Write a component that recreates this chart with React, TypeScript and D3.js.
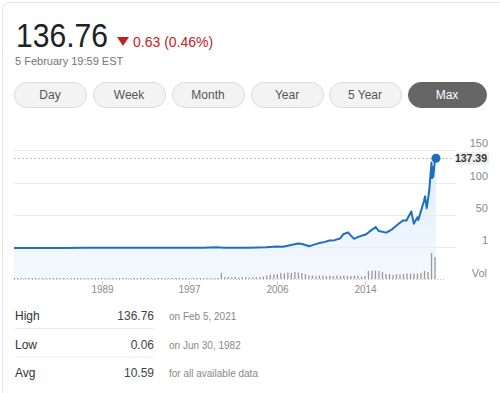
import React from 'react'
import * as d3 from 'd3'

// price history (split adjusted)
const priceDates = [
  '1980-12-12', '1983-06-15', '1985-09-01', '1987-09-01', '1990-01-01', '1991-12-01',
  '1993-09-01', '1996-06-01', '1998-12-01', '2000-03-20', '2000-12-20', '2003-04-15',
  '2004-12-15', '2005-12-15', '2006-07-15', '2007-12-20', '2008-05-15', '2009-01-20',
  '2009-12-20', '2010-06-15', '2010-12-15', '2011-06-15', '2011-12-15', '2012-04-10',
  '2012-09-20', '2013-04-20', '2013-09-15', '2014-06-15', '2014-12-01', '2015-05-15',
  '2015-08-25', '2016-05-15', '2016-12-15', '2017-06-15', '2017-12-15', '2018-04-15',
  '2018-10-01', '2018-12-28', '2019-05-01', '2019-06-01', '2019-12-15', '2020-01-20',
  '2020-03-20', '2020-06-15', '2020-09-01', '2020-09-20', '2020-10-12', '2020-11-01',
  '2020-12-29', '2021-01-26', '2021-02-05',
]
const priceValues = [
  0.1, 0.18, 0.07, 0.4, 0.3, 0.5,
  0.3, 0.2, 0.3, 1.1, 0.25, 0.23,
  1.0, 2.3, 1.8, 6.8, 6.2, 2.8,
  7.5, 9, 11.5, 12, 14.5, 21,
  24, 14, 17, 21, 27, 32,
  26, 23.5, 29, 36, 42, 42,
  56, 37, 47, 43, 72, 79,
  61, 88, 131, 107, 124, 109,
  134, 142, 137.39,
]

// volume per 4-month bucket starting Jan 1981
const volumeStart = '1981-01-01'
const volumes = [
  1, 1, 1, 1, 1, 1, 1, 1, 1, 1, 1, 1, 1, 1, 1, 1, 1, 1, 1, 1,
  1, 1, 1, 1, 1, 1, 1, 1, 1, 1, 1, 1, 1, 1, 1, 1, 1, 1, 1, 1,
  1, 1, 1, 1, 1, 1, 1, 1, 1, 1, 1, 1, 1, 1, 1, 1, 1, 1, 1,
  6,
  2, 2, 1.5, 2, 1.5, 2, 2, 1.5, 2, 2, 2, 2.5,
  3.5, 4, 4.5, 5,
  6, 5.5, 6.5, 6, 7, 6.5, 6, 5,
  3.5, 3.5, 3, 3.5, 3.5, 3, 3.5, 3, 3.5, 3, 3.5, 3, 3, 3.5, 3, 2.5, 3,
  8, 8.5, 8.5, 8, 7,
  5, 5, 4, 5, 4.5,
  5, 5.5, 5.5, 5.5, 5.5, 6, 8, 7,
  26,
  22,
]

const yTicks = [150, 100, 50, 1]
const yTickLabels = ['150', '100', '50', '1']
const xTickDates = ['1989-04-20', '1997-08-15', '2006-01-01', '2014-05-10']
const xTickLabels = ['1989', '1997', '2006', '2014']

const ranges = ['Day', 'Week', 'Month', 'Year', '5 Year', 'Max']
const activeRange = 'Max'

const lastClose = 137.39
const headline = '136.76'
const change = '0.63 (0.46%)'
const timestamp = '5 February 19:59 EST'

const statLabels = ['High', 'Low', 'Avg']
const statValues = ['136.76', '0.06', '10.59']
const statNotes = ['on Feb 5, 2021', 'on Jun 30, 1982', 'for all available data']

const FONT = '"Liberation Sans", Arial, sans-serif'
const BLUE = '#1f6fc0'

const App = () => {
  const parse = d3.timeParse('%Y-%m-%d')
  const prices = priceDates.map((d, i) => ({ date: parse(d) as Date, value: priceValues[i] }))
  const v0 = parse(volumeStart) as Date
  const vols = volumes.map((v, i) => ({ date: d3.timeMonth.offset(v0, i * 4), value: v }))

  const x = d3.scaleTime()
    .domain([prices[0].date, prices[prices.length - 1].date])
    .range([14, 436])
  const y = d3.scaleLinear().domain([0, 150]).range([248, 150])
  const yVol = d3.scaleLinear().domain([0, 27]).range([279, 252])

  const line = d3.line<any>().x(d => x(d.date)).y(d => y(d.value))
  const area = d3.area<any>().x(d => x(d.date)).y0(279).y1(d => y(d.value))
  const last = prices[prices.length - 1]

  // button layout
  const btnX = [14, 93, 172, 251, 329, 408]
  const btnW = [72, 72, 72, 72, 72, 78]

  return (
    <div style={{ position: 'fixed', left: 0, top: 0 }}>
      <svg width={500} height={393} style={{ display: 'block', fontFamily: FONT }}>
        <rect x={0} y={0} width={500} height={393} fill="#fff" />
        <rect x={2.5} y={2.5} width={520} height={420} rx={7} fill="#fff" stroke="#e6e6e6" />

        {/* header */}
        <text x={16} y={47} fontSize={33} fill="#202124" textLength={92} lengthAdjust="spacingAndGlyphs">{headline}</text>
        <path d="M117,37 L129,37 L123,46 Z" fill="#c5221f" />
        <text x={133} y={46.5} fontSize={14} fill="#c5221f">{change}</text>
        <text x={15} y={65} fontSize={11} fill="#70757a">{timestamp}</text>

        {/* range buttons */}
        {ranges.map((r, i) => {
          const on = r === activeRange
          return (
            <g key={r}>
              <rect x={btnX[i] + 0.5} y={82.5} width={btnW[i]} height={25} rx={12.5}
                fill={on ? '#666' : '#f3f3f3'} stroke={on ? '#666' : '#dcdcdc'} />
              <text x={btnX[i] + btnW[i] / 2} y={99} fontSize={12} textAnchor="middle"
                fill={on ? '#fff' : '#555'}>{r}</text>
            </g>
          )
        })}

        {/* chart */}
        <defs>
          <linearGradient id="fillGrad" x1="0" y1="0" x2="0" y2="1">
            <stop offset="0%" stopColor="#cfe4fb" stopOpacity={0.7} />
            <stop offset="100%" stopColor="#e8f2fd" stopOpacity={0.5} />
          </linearGradient>
        </defs>
        {yTicks.map(t => (
          <line key={t} x1={14} x2={456} y1={Math.round(y(t)) + 0.5} y2={Math.round(y(t)) + 0.5} stroke="#ececec" />
        ))}
        {yTicks.map((t, i) => (
          <text key={'l' + t} x={488} y={y(t) - 3} fontSize={11} textAnchor="end" fill="#8a8a8a">{yTickLabels[i]}</text>
        ))}
        <path d={area(prices) ?? ''} fill="url(#fillGrad)" />
        <line x1={14} x2={452} y1={Math.round(y(lastClose)) + 0.5} y2={Math.round(y(lastClose)) + 0.5}
          stroke="#bdbdbd" strokeDasharray="2,2" />
        <rect x={456} y={y(lastClose) - 6.5} width={33} height={13} rx={2} fill="#eeeeee" />
        <text x={487} y={y(lastClose) + 4} fontSize={10.5} fontWeight="bold" textAnchor="end" fill="#333">{lastClose.toFixed(2)}</text>

        {/* volume */}
        <line x1={14} x2={446} y1={279.5} y2={279.5} stroke="#bdbdbd" strokeDasharray="1,2" />
        {vols.map((d, i) => (
          <rect key={i} x={x(d.date) - 0.6} y={yVol(d.value)} width={1.3} height={279 - yVol(d.value)} fill="#9a9a9a" />
        ))}
        <text x={487} y={277} fontSize={11} textAnchor="end" fill="#8a8a8a">Vol</text>

        <path d={line(prices) ?? ''} fill="none" stroke={BLUE} strokeWidth={2} strokeLinejoin="round" />
        <circle cx={x(last.date)} cy={y(last.value)} r={4.5} fill={BLUE} />

        {/* x axis */}
        {xTickDates.map((d, i) => {
          const xx = Math.round(x(parse(d) as Date)) + 0.5
          return (
            <g key={d}>
              <line x1={xx} x2={xx} y1={281} y2={285} stroke="#d0d0d0" />
              <text x={xx} y={293} fontSize={10} textAnchor="middle" fill="#8a8a8a">{xTickLabels[i]}</text>
            </g>
          )
        })}

        {/* stats */}
        {statLabels.map((s, i) => {
          const by = 320 + i * 28.5
          return (
            <g key={s}>
              <text x={15} y={by} fontSize={12} fill="#333">{s}</text>
              <text x={154} y={by} fontSize={12} textAnchor="end" fill="#444">{statValues[i]}</text>
              <text x={169} y={by} fontSize={10} fill="#888">{statNotes[i]}</text>
              {i < 2 && <line x1={15} x2={154} y1={by + 8.5} y2={by + 8.5} stroke="#ececec" />}
            </g>
          )
        })}
      </svg>
    </div>
  )
}

export default App
